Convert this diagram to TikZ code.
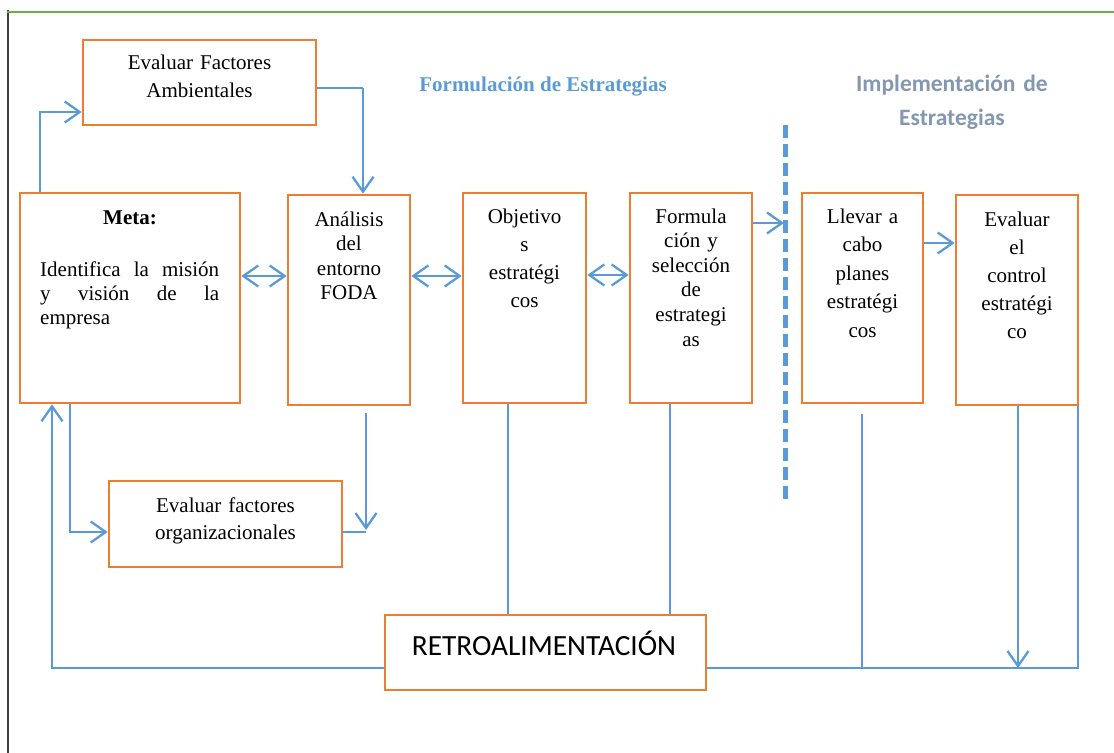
\documentclass[tikz,border=0pt]{standalone}
\usepackage{fontspec}
\setmainfont{Liberation Serif}
\newfontfamily\calibri{Carlito}
\usetikzlibrary{arrows.meta,calc}
\definecolor{boxorange}{HTML}{ED7D31}
\definecolor{linkblue}{HTML}{5B9BD5}
\definecolor{phasegray}{HTML}{8497B0}
\definecolor{framegreen}{HTML}{70AD47}
\definecolor{framegray}{HTML}{404040}
\tikzset{barb/.tip={Straight Barb[length=15bp,width=21bp,line width=2.3bp]}}

\begin{document}
\begin{tikzpicture}[x=1bp,y=-1bp,
  box/.style={draw=boxorange, line width=2.6bp, inner sep=0pt},
  txt/.style={inner sep=0pt, anchor=base, align=center,
              font=\fontsize{21bp}{#1}\selectfont},
  txt/.default=25bp,
  conn/.style={draw=linkblue, line width=1.4bp},
  heavy/.style={draw=linkblue, line width=2.6bp},
  dashline/.style={draw=linkblue, line width=5bp, dash pattern=on 13bp off 6bp},
  phase/.style={inner sep=0pt, anchor=base, align=center}]

\useasboundingbox (0,0) rectangle (1114,753);

% page frame
\draw[framegray, line width=1.8bp] (8,753) -- (8,10);
\draw[framegreen, line width=2bp] (7,12) -- (1114,12);

% boxes
\node[box, minimum width=233bp, minimum height=85bp]  (amb)   at (199.5,82.5) {};
\node[box, minimum width=220bp, minimum height=210bp] (meta)  at (130,298) {};
\node[box, minimum width=122bp, minimum height=210bp] (foda)  at (349,300) {};
\node[box, minimum width=123bp, minimum height=210bp] (obj)   at (524.5,298) {};
\node[box, minimum width=122bp, minimum height=210bp] (form)  at (691,298) {};
\node[box, minimum width=121bp, minimum height=210bp] (llev)  at (862.5,298) {};
\node[box, minimum width=122bp, minimum height=210bp] (ctrl)  at (1017,300) {};
\node[box, minimum width=233bp, minimum height=86bp]  (org)   at (225.5,524) {};
\node[box, minimum width=321bp, minimum height=75bp]  (retro) at (545.5,652.5) {};

% box texts
\node[txt=28bp, text width=225bp] (ambT) at (199.5,70) {Evaluar Factores\\Ambientales};
\node[txt=25bp, text width=200bp] (metaH) at (130,224) {\textbf{Meta:}};
\node[txt=24bp, text width=179bp, align=left, anchor=base west] (metaT) at (40,276)
  {\makebox[179bp][l]{Identifica\hfill la\hfill misión}\\
   \makebox[179bp][l]{y\hfill visión\hfill de\hfill la}\\
   empresa};
\node[txt=24.5bp, text width=118bp] (fodaT) at (349,226) {Análisis\\del\\entorno\\FODA};
\node[txt=28.3bp, text width=118bp] (objT) at (524.5,223) {Objetivo\\s\\estratégi\\cos};
\node[txt=24.6bp, text width=118bp] (formT) at (691,223) {Formula\\ción y\\selección\\de\\estrategi\\as};
\node[txt=28.5bp, text width=118bp] (llevT) at (862.5,223) {Llevar a\\cabo\\planes\\estratégi\\cos};
\node[txt=28bp, text width=118bp] (ctrlT) at (1017,226) {Evaluar\\el\\control\\estratégi\\co};
\node[txt=27bp, text width=228bp] (orgT) at (225.5,512) {Evaluar factores\\organizacionales};
\node[phase, font=\calibri\fontsize{29.3bp}{32bp}\selectfont] (retroT) at (544,655) {RETROALIMENTACIÓN};

% phase titles
\node[phase, font=\bfseries\fontsize{21bp}{25bp}\selectfont, text=linkblue] (formTitle) at (543,92)
  {Formulación de Estrategias};
\node[phase, text width=240bp, font=\calibri\bfseries\fontsize{23.5bp}{33bp}\selectfont, text=phasegray] (implTitle) at (952,92)
  {Implementación de\\Estrategias};

% divider between the two phases
\coordinate (divTop) at (785,125);
\coordinate (divBot) at (785,503);
\draw[dashline] (divTop) -- (divBot);

% goal -> environmental factors
\draw[conn, -barb] (meta.north -| 40,0) |- (amb.west |- 0,112);
% environmental factors -> SWOT analysis
\coordinate (ambTurn) at (363,88);
\draw[conn] (amb.east |- ambTurn) -- (ambTurn);
\draw[heavy, -barb] (ambTurn) -- (foda.north -| ambTurn);

% two-way links along the main row
\draw[conn, barb-barb] (meta.east |- 0,276) -- (foda.west |- 0,276);
\draw[conn, barb-barb] (foda.east |- 0,276) -- (obj.west |- 0,276);
\draw[conn, barb-barb] (obj.east |- 0,275) -- (form.west |- 0,275);

% formulation -> implementation
\coordinate (divIn) at (784,223);
\draw[conn, -barb] (form.east |- divIn) -- (divIn);
\draw[conn, -barb] (llev.east |- 0,243) -- (ctrl.west |- 0,243);

% goal -> organizational factors
\draw[conn, -barb] (meta.south -| 70,0) |- (org.west |- 0,532);
% organizational factors and SWOT analysis meet
\coordinate (orgMeet) at (366,532);
\draw[conn] (org.east |- orgMeet) -- (orgMeet);
\draw[heavy, -barb] ($(foda.south -| orgMeet)+(0,7)$) -- (366,530);

% feedback loop
\coordinate (fbLeft) at (52,668);
\coordinate (fbRise) at (52,460);
\coordinate (fbRight) at (1078,668);
\draw[conn] (retro.west |- fbLeft) -- (fbLeft) -- (fbRise);
\draw[heavy, -barb] (fbRise) -- (meta.south -| fbRise);
\draw[conn] (obj.south -| 508,0) -- (retro.north -| 508,0);
\draw[conn] (form.south -| 670,0) -- (retro.north -| 670,0);
\draw[conn] ($(llev.south -| 862,0)+(0,10)$) -- (862,668);
\draw[heavy, -barb] (ctrl.south -| 1018,0) -- (1018,668);
\draw[conn] (fbRight |- ctrl.south) -- (fbRight) -- (retro.east |- fbRight);
\end{tikzpicture}
\end{document}
